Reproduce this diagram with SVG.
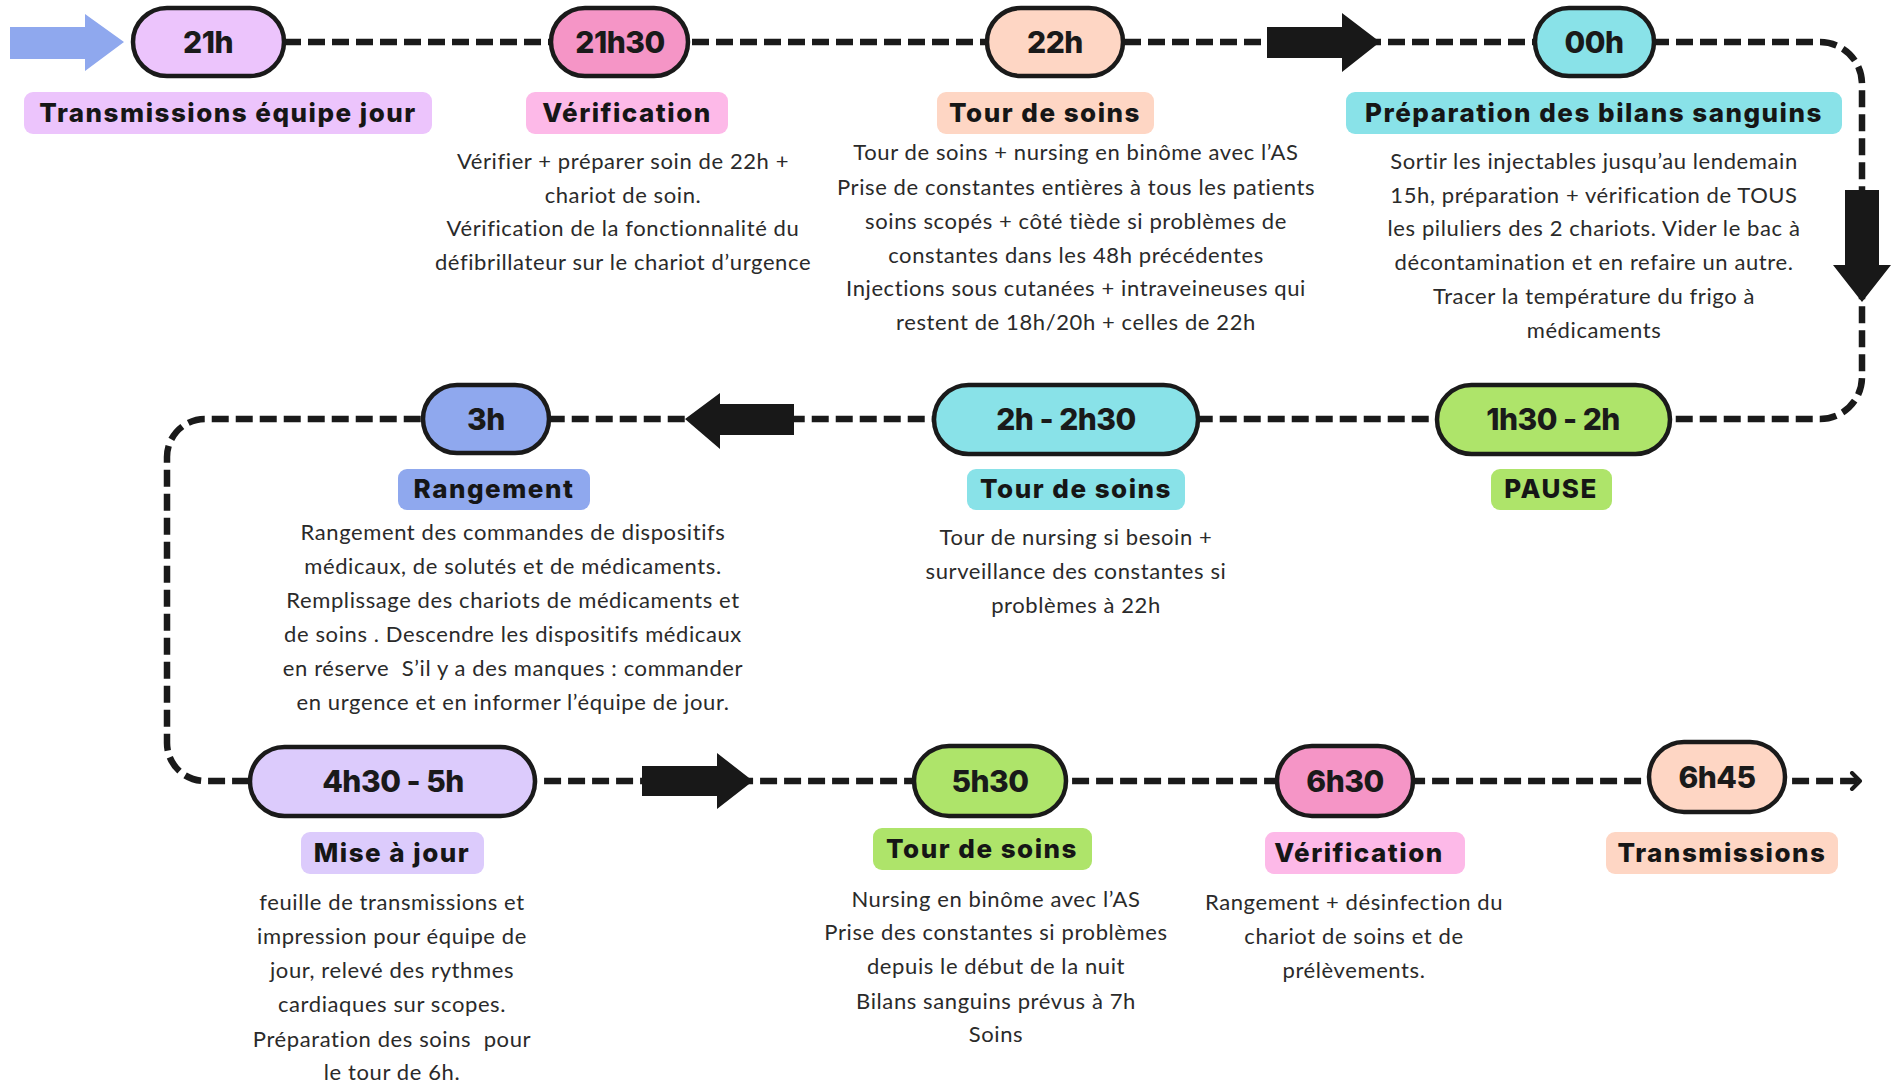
<svg xmlns="http://www.w3.org/2000/svg" width="1893" height="1083" viewBox="0 0 1893 1083">
<style>
.pill{stroke:#1a1a1a;stroke-width:4.5}
.pt{font-family:Inter,"Liberation Sans",sans-serif;font-weight:800;font-size:30px;fill:#1a1a1a;text-anchor:middle;letter-spacing:-0.5px;white-space:pre}
.lt{font-family:Inter,"Liberation Sans",sans-serif;font-weight:800;font-size:26px;fill:#161616;text-anchor:middle;letter-spacing:1.5px}
.dt{font-family:Lato,"Liberation Sans",sans-serif;font-weight:400;font-size:22px;fill:#2a2a2a;text-anchor:middle;white-space:pre;letter-spacing:0.6px}
.dash{fill:none;stroke:#1a1a1a;stroke-width:6.5;stroke-dasharray:17 7}
.blk{fill:#181818}
.violet{fill:#ecc4fc}.pink{fill:#f595c6}.lpink{fill:#fdb9e8}.peach{fill:#fed6c4}.cyan{fill:#89e2e8}.green{fill:#aee46a}.blue{fill:#8fa8ee}.lav{fill:#dccbfc}
</style>
<defs>
<marker id="chev" viewBox="0 0 16 20" refX="12" refY="10" markerWidth="16" markerHeight="20" markerUnits="userSpaceOnUse" orient="auto">
<path d="M4,2 L12,10 L4,18" fill="none" stroke="#1a1a1a" stroke-width="4" stroke-linecap="round" stroke-linejoin="round"/>
</marker>
</defs>
<rect width="1893" height="1083" fill="#ffffff"/>
<g id="connectors">
<path class="dash" d="M284 42 H1820 A42 42 0 0 1 1862 84 V377 A42 42 0 0 1 1820 419 H205 A38 38 0 0 0 167 457 V743 A38 38 0 0 0 205 781 H1860" marker-end="url(#chev)"/>
<polygon class="blue" points="10,27 85,27 85,14 124,42 85,71 85,59 10,59"/>
<polygon class="blk" points="1267,27 1342,27 1342,13 1380,42 1342,72 1342,58 1267,58"/>
<polygon class="blk" points="1845,190 1879,190 1879,265 1891,265 1862,302 1833,265 1845,265"/>
<polygon class="blk" points="794,404 720,404 720,393 685,419 720,449 720,435 794,435"/>
<polygon class="blk" points="642,766 717,766 717,753 753,781 717,809 717,796 642,796"/>
</g>
<g id="n21h">
<rect class="pill violet" x="133" y="8" width="151" height="68" rx="34"/>
<text class="pt" x="208" y="53">21h</text>
<rect class="violet" x="24" y="92" width="408" height="42" rx="9"/>
<text class="lt" x="228" y="122">Transmissions équipe jour</text>
</g>
<g id="n21h30">
<rect class="pill pink" x="551" y="8" width="137" height="68" rx="34"/>
<text class="pt" x="620" y="53">21h30</text>
<rect class="lpink" x="526" y="92" width="202" height="42" rx="9"/>
<text class="lt" x="627" y="122">Vérification</text>
<text class="dt" x="623" y="169">Vérifier + préparer soin de 22h +</text>
<text class="dt" x="623" y="203">chariot de soin.</text>
<text class="dt" x="623" y="236">Vérification de la fonctionnalité du</text>
<text class="dt" x="623" y="270">défibrillateur sur le chariot d’urgence</text>
</g>
<g id="n22h">
<rect class="pill peach" x="987" y="8" width="136" height="68" rx="34"/>
<text class="pt" x="1055" y="53">22h</text>
<rect class="peach" x="937" y="92" width="217" height="42" rx="9"/>
<text class="lt" x="1045" y="122">Tour de soins</text>
<text class="dt" x="1076" y="160">Tour de soins + nursing en binôme avec l’AS</text>
<text class="dt" x="1076" y="195">Prise de constantes entières à tous les patients</text>
<text class="dt" x="1076" y="229">soins scopés + côté tiède si problèmes de</text>
<text class="dt" x="1076" y="263">constantes dans les 48h précédentes</text>
<text class="dt" x="1076" y="296">Injections sous cutanées + intraveineuses qui</text>
<text class="dt" x="1076" y="330">restent de 18h/20h + celles de 22h</text>
</g>
<g id="n00h">
<rect class="pill cyan" x="1535" y="8" width="119" height="68" rx="34"/>
<text class="pt" x="1594" y="53">00h</text>
<rect class="cyan" x="1346" y="92" width="496" height="42" rx="9"/>
<text class="lt" x="1594" y="122">Préparation des bilans sanguins</text>
<text class="dt" x="1594" y="169">Sortir les injectables jusqu’au lendemain</text>
<text class="dt" x="1594" y="203">15h, préparation + vérification de TOUS</text>
<text class="dt" x="1594" y="236">les piluliers des 2 chariots. Vider le bac à</text>
<text class="dt" x="1594" y="270">décontamination et en refaire un autre.</text>
<text class="dt" x="1594" y="304">Tracer la température du frigo à</text>
<text class="dt" x="1594" y="338">médicaments</text>
</g>
<g id="n1h30">
<rect class="pill green" x="1437" y="385" width="233" height="69" rx="34.5"/>
<text class="pt" x="1553" y="430">1h30 - 2h</text>
<rect class="green" x="1491" y="469" width="121" height="41" rx="9"/>
<text class="lt" x="1551" y="498">PAUSE</text>
</g>
<g id="n2h">
<rect class="pill cyan" x="934" y="385" width="264" height="69" rx="34.5"/>
<text class="pt" x="1066" y="430">2h - 2h30</text>
<rect class="cyan" x="967" y="469" width="218" height="41" rx="9"/>
<text class="lt" x="1076" y="498">Tour de soins</text>
<text class="dt" x="1076" y="545">Tour de nursing si besoin +</text>
<text class="dt" x="1076" y="579">surveillance des constantes si</text>
<text class="dt" x="1076" y="613">problèmes à 22h</text>
</g>
<g id="n3h">
<rect class="pill blue" x="423" y="385" width="126" height="68" rx="34"/>
<text class="pt" x="486" y="430">3h</text>
<rect class="blue" x="398" y="469" width="192" height="41" rx="9"/>
<text class="lt" x="494" y="498">Rangement</text>
<text class="dt" x="513" y="540">Rangement des commandes de dispositifs</text>
<text class="dt" x="513" y="574">médicaux, de solutés et de médicaments.</text>
<text class="dt" x="513" y="608">Remplissage des chariots de médicaments et</text>
<text class="dt" x="513" y="642">de soins . Descendre les dispositifs médicaux</text>
<text class="dt" x="513" y="676">en réserve  S’il y a des manques : commander</text>
<text class="dt" x="513" y="710">en urgence et en informer l’équipe de jour.</text>
</g>
<g id="n4h30">
<rect class="pill lav" x="250" y="747" width="285" height="69" rx="34.5"/>
<text class="pt" x="393" y="792">4h30 - 5h</text>
<rect class="lav" x="301" y="832" width="183" height="42" rx="9"/>
<text class="lt" x="392" y="862">Mise à jour</text>
<text class="dt" x="392" y="910">feuille de transmissions et</text>
<text class="dt" x="392" y="944">impression pour équipe de</text>
<text class="dt" x="392" y="978">jour, relevé des rythmes</text>
<text class="dt" x="392" y="1012">cardiaques sur scopes.</text>
<text class="dt" x="392" y="1047">Préparation des soins  pour</text>
<text class="dt" x="392" y="1080">le tour de 6h.</text>
</g>
<g id="n5h30">
<rect class="pill green" x="914" y="746" width="152" height="70" rx="35"/>
<text class="pt" x="990" y="792">5h30</text>
<rect class="green" x="873" y="828" width="219" height="42" rx="9"/>
<text class="lt" x="982" y="858">Tour de soins</text>
<text class="dt" x="996" y="907">Nursing en binôme avec l’AS</text>
<text class="dt" x="996" y="940">Prise des constantes si problèmes</text>
<text class="dt" x="996" y="974">depuis le début de la nuit</text>
<text class="dt" x="996" y="1009">Bilans sanguins prévus à 7h</text>
<text class="dt" x="996" y="1042">Soins</text>
</g>
<g id="n6h30">
<rect class="pill pink" x="1277" y="746" width="136" height="70" rx="35"/>
<text class="pt" x="1345" y="792">6h30</text>
<rect class="lpink" x="1265" y="832" width="200" height="42" rx="9"/>
<text class="lt" x="1359" y="862">Vérification</text>
<text class="dt" x="1354" y="910">Rangement + désinfection du</text>
<text class="dt" x="1354" y="944">chariot de soins et de</text>
<text class="dt" x="1354" y="978">prélèvements.</text>
</g>
<g id="n6h45">
<rect class="pill peach" x="1649" y="742" width="136" height="70" rx="35"/>
<text class="pt" x="1717" y="788">6h45</text>
<rect class="peach" x="1606" y="832" width="232" height="42" rx="9"/>
<text class="lt" x="1722" y="862">Transmissions</text>
</g>
</svg>
